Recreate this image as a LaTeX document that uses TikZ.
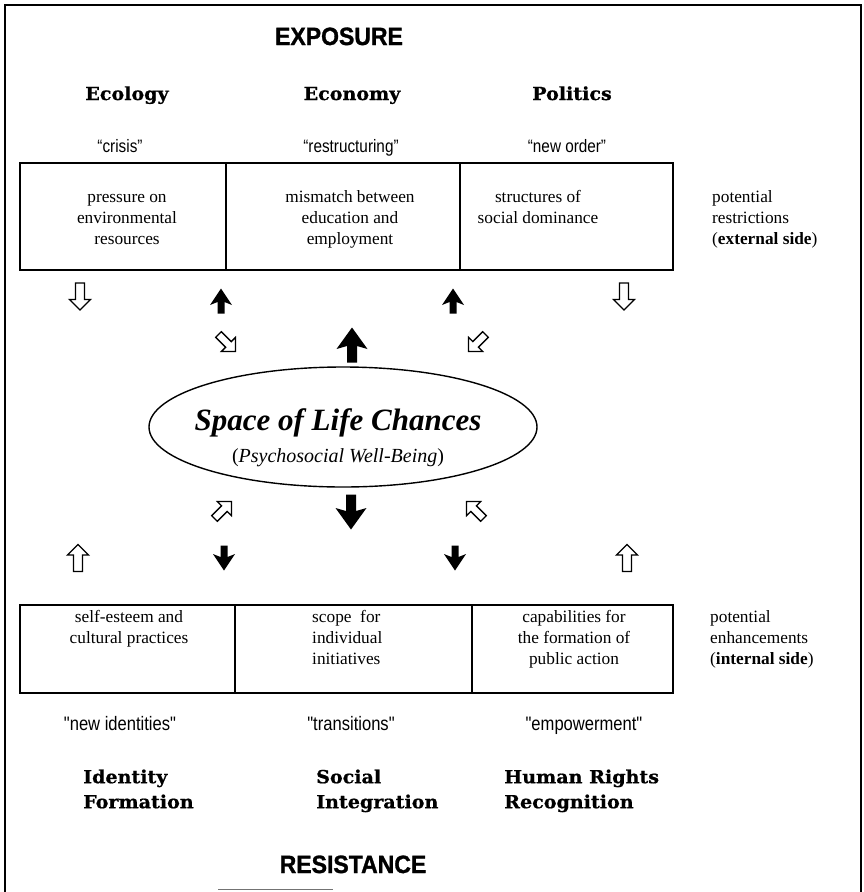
\documentclass[tikz,border=0pt]{standalone}
\usepackage{fontspec}
\usetikzlibrary{shapes.geometric}
\setmainfont{Liberation Serif}
\newfontfamily\headfamily[FakeStretch=1.06,FakeBold=0.8]{DejaVu Serif}
\newfontfamily\quotefamily[FakeStretch=0.85]{Liberation Sans}
\newfontfamily\capsfamily[FakeStretch=0.92,FakeBold=1.2]{Liberation Sans}

\tikzset{
  frameline/.style={line width=2pt},
  cellbox/.style={line width=1.6pt},
  caps/.style={font=\capsfamily\bfseries\fontsize{25}{28}\selectfont, inner sep=0pt},
  head/.style={font=\headfamily\bfseries\fontsize{18}{25}\selectfont, inner sep=0pt},
  quotetop/.style={font=\quotefamily\fontsize{18}{21}\selectfont, inner sep=0pt},
  quotebot/.style={font=\quotefamily\fontsize{19.5}{23}\selectfont, inner sep=0pt},
  body/.style={font=\fontsize{17.3}{21}\selectfont, inner sep=0pt, align=center},
  sidebody/.style={body, align=left, anchor=north west},
  % open block arrow pointing along +x
  hollowarr/.pic={\draw[line width=1.3pt, fill=white, miter limit=10]
      (-13.5,-4.5) -- (3,-4.5) -- (3,-10.5) -- (13.5,0) -- (3,10.5) -- (3,4.5) -- (-13.5,4.5) -- cycle;},
  hollowdiag/.pic={\draw[line width=1.3pt, fill=white, miter limit=10]
      (-12,-4) -- (2,-4) -- (2,-10) -- (12,0) -- (2,10) -- (2,4) -- (-12,4) -- cycle;},
  % solid arrows with swept-back barbs
  solidarr/.pic={\fill
      (-12.5,-3.5) -- (-1,-3.5) -- (-4,-11) -- (12.5,0) -- (-4,11) -- (-1,3.5) -- (-12.5,3.5) -- cycle;},
  bigsolidarr/.pic={\fill
      (-17.5,-5) -- (-1,-5) -- (-4,-15.5) -- (17.5,0) -- (-4,15.5) -- (-1,5) -- (-17.5,5) -- cycle;},
}

\begin{document}
\begin{tikzpicture}[x=1pt,y=-1pt]
\useasboundingbox (0,0) rectangle (863,892);

% outer frame
\draw[frameline] (5,892) -- (5,4.5) -- (861,4.5) -- (861,892);
\draw[line width=1.2pt, black!55] (218,889.5) -- (333,889.5);

% ---- exposure side ----
\node[caps, anchor=base] (exposure) at (339,45) {EXPOSURE};

\node[head, anchor=base] (ecology)  at (127,100) {Ecology};
\node[head, anchor=base] (economy)  at (352,100) {Economy};
\node[head, anchor=base] (politics) at (572,100) {Politics};

\node[quotetop, anchor=base] (crisis) at (120,152) {“crisis”};
\node[quotetop, anchor=base] (restr)  at (351,152) {“restructuring”};
\node[quotetop, anchor=base] (order)  at (567,152) {“new order”};

\draw[cellbox] (20,163) rectangle (673,270);
\draw[cellbox] (226,163) -- (226,270);
\draw[cellbox] (460,163) -- (460,270);

\node[body, anchor=north] (pressure) at (127,187.3) {\strut pressure on\\environmental\\resources};
\node[body, anchor=north] (mismatch) at (350,187.3) {\strut mismatch between\\education and\\employment};
\node[body, anchor=north] (dominance) at (538,187.3) {\strut structures of\\social dominance};
\node[sidebody] (restrictions) at (712,187.3) {\strut potential\\restrictions\\(\textbf{external side})};

% arrows between the restrictions and the space of life chances
\pic[rotate=-90] at (80,296.5)  {hollowarr};
\pic[rotate=90]  at (221,301)   {solidarr};
\pic[rotate=90]  at (453,301)   {solidarr};
\pic[rotate=-90] at (624,296.5) {hollowarr};

\pic[rotate=-45]  at (227,343) {hollowdiag};
\pic[rotate=90]   at (352,345) {bigsolidarr};
\pic[rotate=-135] at (477,343) {hollowdiag};

% ---- space of life chances ----
\node[draw, ellipse, line width=1.4pt, minimum width=388pt, minimum height=120pt, inner sep=0pt] (lifespace) at (343,427) {};
\node[font=\bfseries\itshape\fontsize{31}{34}\selectfont, anchor=base, inner sep=0pt] (chances) at (338,430) {Space of Life Chances};
\node[font=\fontsize{20}{24}\selectfont, anchor=base, inner sep=0pt] (wellbeing) at (338,462) {(\textit{Psychosocial Well-Being})};

% arrows between the space of life chances and the enhancements
\pic[rotate=45]  at (223,510) {hollowdiag};
\pic[rotate=-90] at (351,512) {bigsolidarr};
\pic[rotate=135] at (475,510) {hollowdiag};

\pic[rotate=90]  at (78,558)  {hollowarr};
\pic[rotate=-90] at (224,558) {solidarr};
\pic[rotate=-90] at (455,558) {solidarr};
\pic[rotate=90]  at (627,558) {hollowarr};

% ---- resistance side ----
\draw[cellbox] (20,605) rectangle (673,693);
\draw[cellbox] (235,605) -- (235,693);
\draw[cellbox] (472,605) -- (472,693);

\node[body, anchor=north] (selfesteem) at (129,607.3) {\strut self-esteem and\\cultural practices};
\node[sidebody] (scope) at (312,607.3) {\strut scope\ \ for\\individual\\initiatives};
\node[body, anchor=north] (capabilities) at (574,607.3) {\strut capabilities for\\the formation of\\public action};
\node[sidebody] (enhancements) at (710,607.3) {\strut potential\\enhancements\\(\textbf{internal side})};

\node[quotebot, anchor=base] (identities)  at (120,730) {"new identities"};
\node[quotebot, anchor=base] (transitions) at (351,730) {"transitions"};
\node[quotebot, anchor=base] (empower)     at (584,730) {"empowerment"};

\node[head, align=left, anchor=north west] (identity)    at (83,765.5)  {\strut Identity\\Formation};
\node[head, align=left, anchor=north west] (integration) at (316,765.5) {\strut Social\\Integration};
\node[head, align=left, anchor=north west] (rights)      at (504,765.5) {\strut Human Rights\\Recognition};

\node[caps, anchor=base] (resistance) at (353,873) {RESISTANCE};
\end{tikzpicture}
\end{document}
